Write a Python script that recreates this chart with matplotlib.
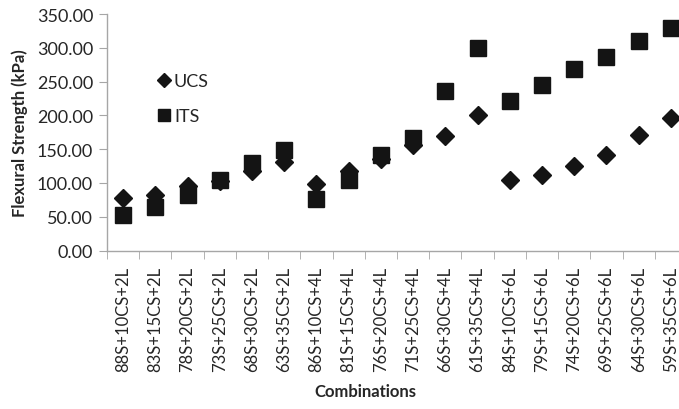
import matplotlib
matplotlib.use('Agg')
import matplotlib.pyplot as plt
from matplotlib.ticker import FixedLocator, FormatStrFormatter

combos = ['88S+10CS+2L', '83S+15CS+2L', '78S+20CS+2L', '73S+25CS+2L', '68S+30CS+2L', '63S+35CS+2L',
          '86S+10CS+4L', '81S+15CS+4L', '76S+20CS+4L', '71S+25CS+4L', '66S+30CS+4L', '61S+35CS+4L',
          '84S+10CS+6L', '79S+15CS+6L', '74S+20CS+6L', '69S+25CS+6L', '64S+30CS+6L', '59S+35CS+6L']
ucs = [78, 82, 96, 103, 117, 131, 98, 118, 136, 156, 170, 200, 104, 111, 125, 142, 171, 196]
its = [53, 65, 82, 105, 130, 148, 76, 104, 141, 166, 236, 300, 221, 245, 268, 286, 310, 330]

plt.rcParams['font.family'] = ['Lato', 'DejaVu Sans']
axis_grey = '#a6a6a6'
mark = '#141414'
txt = '#262626'

fig = plt.figure(figsize=(6.79, 4.10), dpi=100)
ax = fig.add_axes([107 / 679, 158.5 / 410, 580 / 679, 236.5 / 410])

x = list(range(len(combos)))
ax.plot(x, ucs, linestyle='none', marker='D', ms=8.8, color=mark, label='UCS')
ax.plot(x, its, linestyle='none', marker='s', ms=11.5, color=mark, label='ITS')

ax.set_xlim(-0.5, len(combos) - 0.5)
ax.set_ylim(0, 350)
ax.set_yticks(range(0, 351, 50))
ax.yaxis.set_major_formatter(FormatStrFormatter('%.2f'))

# category labels at centres, tick marks between categories
ax.set_xticks(x)
ax.set_xticklabels(combos, rotation=90, fontsize=12, color=txt)
ax.xaxis.set_minor_locator(FixedLocator([i - 0.5 for i in range(len(combos) + 1)]))
ax.tick_params(axis='x', which='major', length=0, pad=11)
ax.tick_params(axis='x', which='minor', length=6, color=axis_grey, direction='out')
ax.tick_params(axis='y', length=6, color=axis_grey, labelsize=13, labelcolor=txt, pad=4)

for side in ['top', 'right']:
    ax.spines[side].set_visible(False)
for side in ['left', 'bottom']:
    ax.spines[side].set_color(axis_grey)
    ax.spines[side].set_linewidth(1.0)

ax.set_ylabel('Flexural Strength (kPa)', fontsize=12, fontweight='bold', color=txt, labelpad=6)
ax.set_xlabel('Combinations', fontsize=12, fontweight='bold', color=txt, labelpad=6)
ax.xaxis.set_label_coords((365 - 107) / 580, -(392 - 251.5) / 236.5)
ax.xaxis.label.set_verticalalignment('center')

ax.legend(loc='upper left', bbox_to_anchor=(146 / 679, 1 - 65 / 410), bbox_transform=fig.transFigure,
          frameon=False, fontsize=13, handletextpad=0.05, labelspacing=1.05, handlelength=1.0,
          markerscale=0.8, borderpad=0, labelcolor=txt)

fig.savefig('out.png', dpi=100)
